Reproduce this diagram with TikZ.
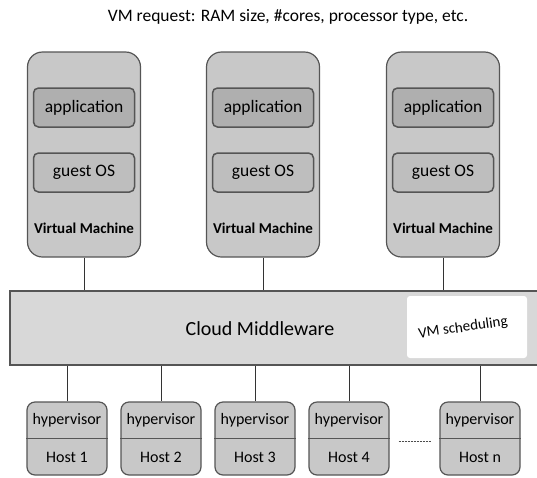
\documentclass[tikz,border=0pt]{standalone}
\usepackage{fontspec}
\setmainfont{Carlito}
\definecolor{linegray}{RGB}{85,85,85}
\definecolor{vmgray}{RGB}{200,200,200}
\definecolor{appgray}{RGB}{175,175,175}
\definecolor{osgray}{RGB}{190,190,190}
\definecolor{midgray}{RGB}{216,216,216}

\begin{document}
\begin{tikzpicture}[x=1pt,y=-1pt,semithick,
    vmbox/.style={draw=linegray,line width=1.2pt,fill=vmgray,rounded corners=15pt,
      minimum width=113pt,minimum height=205pt},
    layerbox/.style={draw=linegray,line width=1.5pt,rounded corners=5pt,inner sep=0pt,
      minimum width=101pt,minimum height=39pt,font=\fontsize{17.5}{20}\selectfont},
    vmlabel/.style={font=\bfseries\fontsize{15}{17}\selectfont},
    hostbox/.style={draw=linegray,line width=1.2pt,fill=vmgray,rounded corners=8pt,
      minimum width=80pt,minimum height=73pt},
    hosttext/.style={font=\fontsize{16}{18}\selectfont},
    link/.style={black!80,thin}]
  \useasboundingbox (0,0) rectangle (537,477);

  \node[font=\fontsize{17.5}{20}\selectfont] (title) at (288,17) {VM request: RAM size, \#cores, processor type, etc.};

  % virtual machines
  \begin{scope}
    \node[vmbox] (vm1) at (84,154.5) {};
    \node[layerbox,fill=appgray] (app1) at (84,107.5) {application};
    \node[layerbox,fill=osgray] (os1) at (84,172.5) {guest OS};
    \node[vmlabel] (vml1) at (84,228) {Virtual Machine};

    \node[vmbox] (vm2) at (263,154.5) {};
    \node[layerbox,fill=appgray] (app2) at (263,107.5) {application};
    \node[layerbox,fill=osgray] (os2) at (263,172.5) {guest OS};
    \node[vmlabel] (vml2) at (263,228) {Virtual Machine};

    \node[vmbox] (vm3) at (443,154.5) {};
    \node[layerbox,fill=appgray] (app3) at (443,107.5) {application};
    \node[layerbox,fill=osgray] (os3) at (443,172.5) {guest OS};
    \node[vmlabel] (vml3) at (443,228) {Virtual Machine};
  \end{scope}

  % middleware
  \node[draw=linegray,line width=1.6pt,fill=midgray,minimum width=535pt,minimum height=74pt] (mw) at (277.5,328) {};
  \node[font=\fontsize{20}{24}\selectfont] (mwtext) at (260,329) {Cloud Middleware};
  \node[fill=white,rounded corners=3pt,minimum width=120pt,minimum height=62pt] (sched) at (467,327) {};
  \node[rotate=8,font=\fontsize{15}{17}\selectfont] (schedtext) at (463,328) {VM scheduling};

  \draw[link] (vm1.south) -- (vm1.south |- mw.north);
  \draw[link] (vm2.south) -- (vm2.south |- mw.north);
  \draw[link] (vm3.south) -- (vm3.south |- mw.north);

  % hosts
  \node[hostbox] (h1) at (67,438.5) {};
  \node[hostbox] (h2) at (161,438.5) {};
  \node[hostbox] (h3) at (255,438.5) {};
  \node[hostbox] (h4) at (349,438.5) {};
  \node[hostbox] (hn) at (480,438.5) {};
  \draw[linegray,line width=1.2pt] (h1.west) -- (h1.east) (h2.west) -- (h2.east)
    (h3.west) -- (h3.east) (h4.west) -- (h4.east) (hn.west) -- (hn.east);

  \node[hosttext] (hv1) at (67,420) {hypervisor};
  \node[hosttext] (hl1) at (67,457) {Host 1};
  \node[hosttext] (hv2) at (161,420) {hypervisor};
  \node[hosttext] (hl2) at (161,457) {Host 2};
  \node[hosttext] (hv3) at (255,420) {hypervisor};
  \node[hosttext] (hl3) at (255,457) {Host 3};
  \node[hosttext] (hv4) at (349,420) {hypervisor};
  \node[hosttext] (hl4) at (349,457) {Host 4};
  \node[hosttext] (hvn) at (480,420) {hypervisor};
  \node[hosttext] (hln) at (480,457) {Host n};

  \draw[link] (h1.north) -- (h1.north |- mw.south);
  \draw[link] (h2.north) -- (h2.north |- mw.south);
  \draw[link] (h3.north) -- (h3.north |- mw.south);
  \draw[link] (h4.north) -- (h4.north |- mw.south);
  \draw[link] (hn.north) -- (hn.north |- mw.south);

  \draw[black!70,thick,dash pattern=on 2pt off 1pt,shorten <=9pt,shorten >=8pt]
    ([yshift=-3pt]h4.east) -- ([yshift=-3pt]hn.west);
\end{tikzpicture}
\end{document}
